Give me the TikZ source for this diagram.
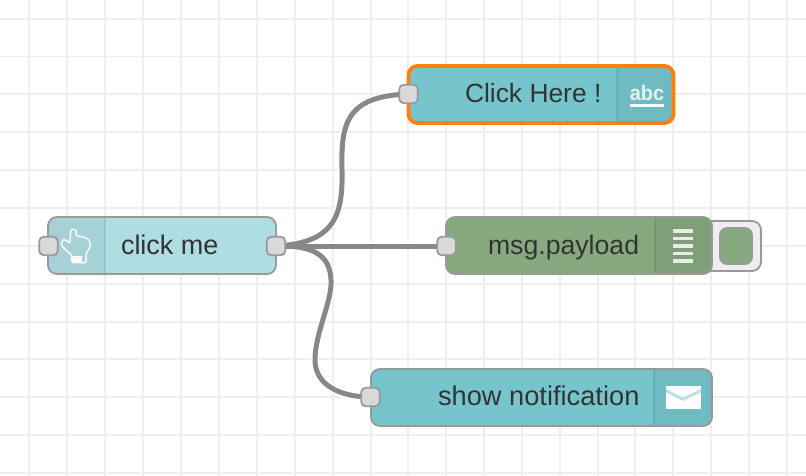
\documentclass[tikz,border=0pt]{standalone}
\usepackage{fontspec}
\setmainfont{Liberation Sans}
\usetikzlibrary{calc}
\pgfdeclarelayer{bg}
\pgfsetlayers{bg,main}
\definecolor{gridc}{HTML}{EEEEEE}
\definecolor{wirec}{HTML}{888888}
\definecolor{edgec}{HTML}{999999}
\definecolor{portc}{HTML}{D9D9D9}
\definecolor{txtc}{HTML}{333333}
\definecolor{injectc}{HTML}{AEDDE2}
\definecolor{injecti}{HTML}{A6D2D7}
\definecolor{tealc}{HTML}{77C5CC}
\definecolor{teali}{HTML}{70BAC1}
\definecolor{greenc}{HTML}{87A980}
\definecolor{greeni}{HTML}{7E9F78}
\definecolor{dividc}{HTML}{000000}
\definecolor{orangec}{HTML}{FF7F0E}
\definecolor{statusc}{HTML}{EEEEEE}
\tikzset{
  x=1pt,y=-1pt,
  flowbody/.style={rectangle,rounded corners=9pt,inner sep=0pt,outer sep=0pt,minimum height=57pt},
  portbox/.style={rectangle,draw=edgec,fill=portc,line width=1.8pt,rounded corners=4.5pt,inner sep=0pt,outer sep=0pt,minimum width=18.5pt,minimum height=18.5pt},
  flowlabel/.style={anchor=base west,inner sep=0pt,outer sep=0pt,text=txtc},
  wirecase/.style={white,line width=8pt},
  wireline/.style={wirec,line width=5pt},
  bordr/.style={draw=edgec,line width=1.8pt,rounded corners=9pt},
  dividr/.style={dividc,opacity=0.08,line width=2pt},
  gthick/.style={gridc,line width=2pt},
  gthin/.style={gridc,line width=1.3pt},
  wicon/.style={white,opacity=0.9,line width=1.5pt,line join=round},
}
\begin{document}
\begin{tikzpicture}
\useasboundingbox (0,0) rectangle (806,476);
\begin{pgfonlayer}{bg}
\fill[white] (0,0) rectangle (806,476);
% grid
\foreach \gx/\gs in {29/gthin,67/gthick,105/gthick,143/gthick,181/gthick,219/gthick,257/gthin,295/gthick,333/gthick,371/gthick,408/gthick,446/gthick,484/gthin,522/gthick,560/gthick,598/gthick,635/gthick,673/gthick,711/gthin,749/gthick,787/gthick}
  \draw[\gs] (\gx,0) -- (\gx,476);
\foreach \gy/\gs in {19/gthick,56.5/gthin,94/gthick,132/gthick,170/gthick,208/gthick,246/gthin,284/gthick,322/gthick,359/gthick,397/gthick,435/gthick,473/gthin}
  \draw[\gs] (0,\gy) -- (806,\gy);
\end{pgfonlayer}

% status box
\node[flowbody,draw=edgec,fill=statusc,line width=1.8pt,minimum width=70pt,minimum height=50pt,anchor=north east] (statusbox) at (761,221) {};
\node[rectangle,draw=edgec,fill=greenc,line width=1.8pt,rounded corners=7pt,inner sep=0pt,outer sep=0pt,minimum width=32pt,minimum height=36pt] (statuslamp) at (736,246) {};

% inject node
\node[flowbody,fill=injectc,minimum width=228pt] (inject) at (162,245.5) {};
\fill[injecti] (105,217) [rounded corners=9pt] -- (48,217) -- (48,274) [sharp corners] -- (105,274) -- cycle;
\draw[dividr] (105,217) -- (105,274);
\draw[bordr] (inject.south west) rectangle (inject.north east);
\node[flowlabel,font=\fontsize{27}{27}\selectfont] (injectlabel) at (121,254) {click me};

% comment node
\node[flowbody,fill=tealc,minimum width=265pt,minimum height=57pt] (comment) at (541,94.5) {};
\fill[teali] (617,66) [rounded corners=9pt] -- (673.5,66) -- (673.5,123) [sharp corners] -- (617,123) -- cycle;
\draw[dividr] (617,66) -- (617,123);
\draw[draw=orangec,line width=3.8pt,rounded corners=9pt] (comment.south west) rectangle (comment.north east);
\node[flowlabel,font=\fontsize{26.4}{27}\selectfont] (commentlabel) at (465,102.6) {Click Here !};
\node[anchor=base,inner sep=0pt,outer sep=0pt,text=white,opacity=0.8,font=\bfseries\fontsize{21}{21}\selectfont,xscale=0.95] (abc) at (647,100.5) {abc};
\fill[white,opacity=0.95] (630,104) rectangle (664,107.5);

% debug node
\node[flowbody,fill=greenc,minimum width=266pt] (debugnode) at (579,245.5) {};
\fill[greeni] (655,217) [rounded corners=9pt] -- (712,217) -- (712,274) [sharp corners] -- (655,274) -- cycle;
\draw[dividr] (655,217) -- (655,274);
\draw[bordr] (debugnode.south west) rectangle (debugnode.north east);
\node[flowlabel,font=\fontsize{26.65}{27}\selectfont] (debuglabel) at (488,254) {msg.payload};
\foreach \by in {231,238.5,246,253.5,261}
  \fill[white,opacity=0.82] (673,\by-1.9) rectangle (693,\by+1.9);

% notification node
\node[flowbody,fill=tealc,minimum width=341pt] (notify) at (541.5,397.5) {};
\fill[teali] (654,369) [rounded corners=9pt] -- (712,369) -- (712,426) [sharp corners] -- (654,426) -- cycle;
\draw[dividr] (654,369) -- (654,426);
\draw[bordr] (notify.south west) rectangle (notify.north east);
\node[flowlabel,font=\fontsize{27.25}{27}\selectfont] (notifylabel) at (438,405) {show notification};
\fill[white] (666,386) rectangle (700.5,409);
\fill[teali!45!white] (666,389) -- (683,397.5) -- (700.5,389) -- (700.5,392.5) -- (683,401) -- (666,392.5) -- cycle;

% hand icon
\draw[wicon,rounded corners=1.5pt] (70.7,229.3) -- (76,229.5) -- (76,236) -- (85,237.3) -- (90,240.7) -- (90,248) -- (86,253) -- (86,262.7) -- (71.7,262.7) -- (71.7,255) -- (61.7,246) -- (61.7,240.7) -- (65,239.3) -- (70,243.3) -- cycle;
\fill[white,opacity=0.9] (72,255.5) rectangle (82,263);

% ports
\node[portbox] (inL) at (48.5,246) {};
\node[portbox] (outR) at (276,246) {};
\node[portbox] (commentin) at (408.5,94) {};
\node[portbox] (debugin) at (446.5,246) {};
\node[portbox] (notifyin) at (370.5,397) {};

% wires
\begin{pgfonlayer}{bg}
\foreach \ws in {wirecase,wireline}{
  \draw[\ws] (outR.center) .. controls (335,243) and (343,215) .. (342,170) .. controls (341,125) and (345,96) .. (commentin.center);
  \draw[\ws] (outR.center) -- (debugin.center);
  \draw[\ws] (outR.center) .. controls (318,245) and (332,258) .. (331,285) .. controls (330,305) and (315,335) .. (315,360) .. controls (315,385) and (340,397) .. (notifyin.center);
}
\end{pgfonlayer}
\end{tikzpicture}
\end{document}
